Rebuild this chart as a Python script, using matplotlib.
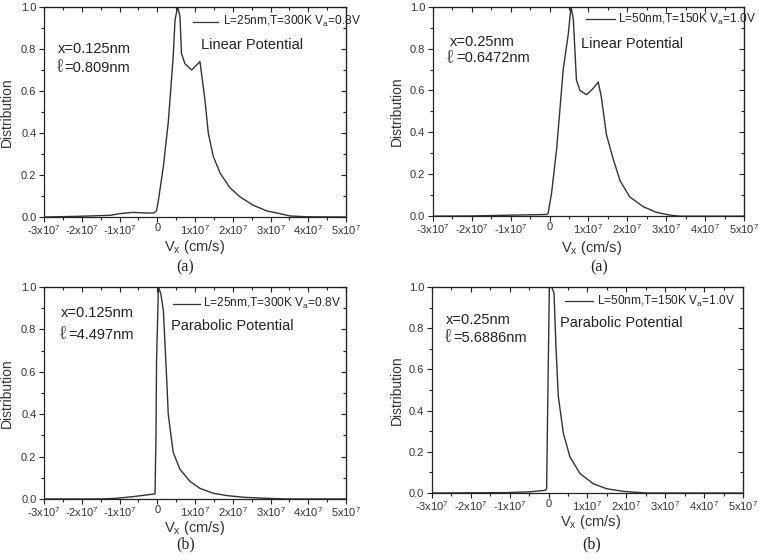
import matplotlib
matplotlib.use("Agg")
import matplotlib.pyplot as plt
from matplotlib.ticker import MultipleLocator

plt.rcParams['font.family'] = ['Liberation Sans', 'DejaVu Sans']
plt.rcParams['mathtext.fontset'] = 'custom'
plt.rcParams['mathtext.rm'] = 'Liberation Sans'
plt.rcParams['mathtext.it'] = 'Liberation Sans:italic'
plt.rcParams['mathtext.default'] = 'regular'

# ---------------- data (velocity in units of 1e7 cm/s) ----------------
vx_a1 = [-3.0, -2.14, -1.25, -0.99, -0.64, -0.28, -0.09, -0.02, 0.03, 0.16, 0.29, 0.42, 0.47,
         0.54, 0.60, 0.64, 0.73, 0.91, 1.13, 1.26, 1.35, 1.48, 1.66, 1.92, 2.19, 2.54, 2.90,
         3.25, 3.51, 3.96, 5.0]
d_a1 = [0.0, 0.003, 0.008, 0.016, 0.022, 0.019, 0.019, 0.03, 0.08, 0.24, 0.45, 0.76, 0.94,
        1.0, 0.955, 0.78, 0.73, 0.70, 0.74, 0.56, 0.40, 0.29, 0.21, 0.14, 0.096, 0.056, 0.029,
        0.016, 0.005, 0.001, 0.0]

vx_a2 = [-3.0, -2.0, -0.94, -0.08, -0.04, 0.05, 0.18, 0.35, 0.48, 0.55, 0.61, 0.69, 0.78,
         0.95, 1.12, 1.25, 1.33, 1.46, 1.64, 1.81, 2.06, 2.41, 2.75, 3.09, 3.35, 5.0]
d_a2 = [0.0, 0.001, 0.005, 0.008, 0.012, 0.11, 0.32, 0.70, 0.87, 1.0, 0.94, 0.65, 0.60,
        0.58, 0.61, 0.64, 0.57, 0.39, 0.27, 0.17, 0.092, 0.045, 0.018, 0.005, 0.0, 0.0]

vx_b1 = [-3.0, -1.52, -1.08, -0.64, -0.28, -0.06, -0.035, -0.02, 0.03, 0.09, 0.16, 0.25,
         0.29, 0.42, 0.60, 0.87, 1.13, 1.48, 1.84, 2.28, 2.90, 3.43, 5.0]
d_b1 = [0.0, 0.0, 0.003, 0.011, 0.019, 0.024, 0.3, 0.65, 1.0, 0.97, 0.89, 0.56, 0.40, 0.22,
        0.14, 0.082, 0.050, 0.027, 0.016, 0.008, 0.003, 0.0, 0.0]

vx_b2 = [-3.0, -1.08, -0.48, -0.09, -0.05, -0.026, 0.02, 0.08, 0.14, 0.19, 0.25, 0.38, 0.55,
         0.81, 1.15, 1.49, 1.92, 2.35, 2.53, 5.0]
d_b2 = [0.0, 0.002, 0.006, 0.013, 0.02, 0.37, 1.0, 1.0, 0.97, 0.71, 0.47, 0.29, 0.175,
        0.094, 0.045, 0.021, 0.008, 0.002, 0.0, 0.0]

xtick_vals = [-3, -2, -1, 0, 1, 2, 3, 4, 5]
xtick_labels = ['-3x10$^7$', '-2x10$^7$', '-1x10$^7$', '0', '1x10$^7$', '2x10$^7$',
                '3x10$^7$', '4x10$^7$', '5x10$^7$']
ytick_vals = [0.0, 0.2, 0.4, 0.6, 0.8, 1.0]

panels = [
    dict(x=vx_a1, y=d_a1, pos=[0.058, 0.6125, 0.398, 0.375],
         legend='L=25nm,T=300K V$_a$=0.8V', xtxt='x=0.125nm', ltxt='=0.809nm',
         pot='Linear Potential', cap='(a)',
         t1=(0.047, 0.80), t2=(0.040, 0.067, 0.71), tp=(0.519, 0.82), lg=(0.494, 0.577, 0.592, 0.93),
         xl=(0.50, -0.143), yl=-0.124, capxy=(0.244, 0.523)),
    dict(x=vx_a2, y=d_a2, pos=[0.5705, 0.614, 0.4097, 0.374],
         legend='L=50nm,T=150K V$_a$=1.0V', xtxt='x=0.25nm', ltxt='=0.6472nm',
         pot='Linear Potential', cap='(a)',
         t1=(0.054, 0.833), t2=(0.041, 0.075, 0.753), tp=(0.477, 0.822), lg=(0.491, 0.585, 0.596, 0.939),
         xl=(0.51, -0.154), yl=-0.116, capxy=(0.790, 0.523)),
    dict(x=vx_b1, y=d_b1, pos=[0.058, 0.109, 0.398, 0.3786],
         legend='L=25nm,T=300K V$_a$=0.8V', xtxt='x=0.125nm', ltxt='=4.497nm',
         pot='Parabolic Potential', cap='(b)',
         t1=(0.056, 0.877), t2=(0.051, 0.081, 0.775), tp=(0.419, 0.814), lg=(0.428, 0.517, 0.527, 0.921),
         xl=(0.50, -0.139), yl=-0.124, capxy=(0.244, 0.027)),
    dict(x=vx_b2, y=d_b2, pos=[0.569, 0.1196, 0.410, 0.368],
         legend='L=50nm,T=150K V$_a$=1.0V', xtxt='x=0.25nm', ltxt='=5.6886nm',
         pot='Parabolic Potential', cap='(b)',
         t1=(0.046, 0.838), t2=(0.039, 0.070, 0.754), tp=(0.411, 0.825), lg=(0.427, 0.519, 0.530, 0.932),
         xl=(0.51, -0.141), yl=-0.113, capxy=(0.780, 0.027)),
]

fig = plt.figure(figsize=(7.59, 5.60), dpi=100)
line_color = '#333333'
ax_color = '#222222'

for p in panels:
    ax = fig.add_axes(p['pos'])
    ax.plot(p['x'], p['y'], color=line_color, lw=1.0)
    ax.set_xlim(-3, 5)
    ax.set_ylim(0, 1.0)
    ax.set_xticks(xtick_vals)
    ax.set_xticklabels(xtick_labels)
    ax.set_yticks(ytick_vals)
    ax.set_yticklabels(['%.1f' % v for v in ytick_vals])
    ax.xaxis.set_minor_locator(MultipleLocator(0.5))
    ax.yaxis.set_minor_locator(MultipleLocator(0.1))
    ax.tick_params(which='both', direction='out', colors=ax_color, labelcolor='#333333',
                   labelsize=8, width=0.8)
    ax.tick_params(which='major', length=3.5)
    ax.tick_params(axis='x', which='major', pad=1)
    ax.tick_params(axis='y', which='major', pad=2)
    ax.tick_params(which='minor', length=2.2)
    for s in ax.spines.values():
        s.set_color(ax_color)
        s.set_linewidth(0.9)
    # mirrored inward ticks on top and right
    top = ax.secondary_xaxis('top')
    top.set_xticks(xtick_vals)
    top.xaxis.set_minor_locator(MultipleLocator(0.5))
    top.tick_params(which='both', direction='in', labeltop=False, colors=ax_color, width=0.8)
    top.tick_params(which='major', length=3.5)
    top.tick_params(which='minor', length=2.2)
    right = ax.secondary_yaxis('right')
    right.set_yticks(ytick_vals)
    right.yaxis.set_minor_locator(MultipleLocator(0.1))
    right.tick_params(which='both', direction='in', labelright=False, colors=ax_color, width=0.8)
    right.tick_params(which='major', length=3.5)
    right.tick_params(which='minor', length=2.2)

    ax.set_xlabel('V$_{x}$ (cm/s)', fontsize=10.5, color='#333333')
    ax.xaxis.set_label_coords(*p['xl'])
    ax.xaxis.label.set_va('center')
    ax.set_ylabel('Distribution', fontsize=10, color='#333333')
    ax.yaxis.set_label_coords(p['yl'], 0.5)
    ax.yaxis.label.set_va('center')

    ax.text(p['t1'][0], p['t1'][1], p['xtxt'], transform=ax.transAxes, fontsize=10.5,
            va='center', ha='left', color='#222222')
    ax.text(p['t2'][0], p['t2'][2], r'$\ell$', transform=ax.transAxes, fontsize=14,
            va='center', ha='left', color='#555555', math_fontfamily='cm')
    ax.text(p['t2'][1], p['t2'][2], p['ltxt'], transform=ax.transAxes, fontsize=10.5,
            va='center', ha='left', color='#222222')
    ax.text(p['tp'][0], p['tp'][1], p['pot'], transform=ax.transAxes, fontsize=10.5,
            va='center', ha='left', color='#222222')
    lx0, lx1, tx, ty = p['lg']
    ax.plot([lx0, lx1], [ty, ty], transform=ax.transAxes, color=line_color, lw=0.9)
    ax.text(tx, ty, p['legend'], transform=ax.transAxes, fontsize=8.6, va='center',
            ha='left', color='#222222', clip_on=False)
    fig.text(p['capxy'][0], p['capxy'][1], p['cap'], fontsize=11.5,
             family=['Liberation Serif', 'DejaVu Serif'], ha='center', va='center',
             color='#222222')

fig.savefig('out.png', dpi=100)
